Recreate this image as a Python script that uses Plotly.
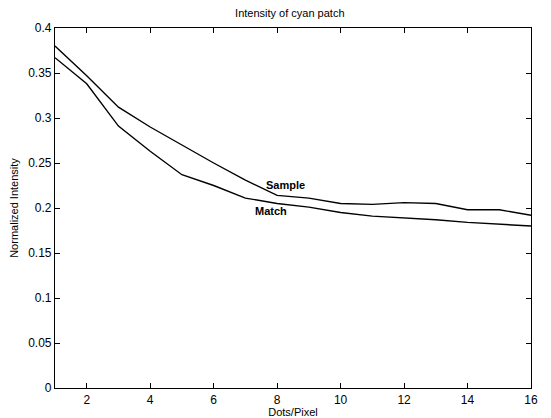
import plotly.graph_objects as go


dots_per_pixel = [1, 2, 3, 4, 5, 6, 7, 8, 9, 10, 11, 12, 13, 14, 15, 16]

sample = [0.380, 0.347, 0.312, 0.290, 0.270, 0.250, 0.231, 0.214,
          0.211, 0.205, 0.204, 0.206, 0.205, 0.198, 0.198, 0.192]

match = [0.367, 0.338, 0.291, 0.263, 0.237, 0.225, 0.211, 0.205,
         0.201, 0.195, 0.191, 0.189, 0.187, 0.184, 0.182, 0.180]

x_ticks = [2, 4, 6, 8, 10, 12, 14, 16]
y_ticks = [0, 0.05, 0.1, 0.15, 0.2, 0.25, 0.3, 0.35, 0.4]
y_tick_text = ["0", "0.05", "0.1", "0.15", "0.2", "0.25", "0.3", "0.35", "0.4"]


fig = go.Figure()

fig.add_trace(
    go.Scatter(
        x=dots_per_pixel,
        y=sample,
        mode="lines",
        line=dict(color="black", width=1.4),
        name="Sample"
    )
)

fig.add_trace(
    go.Scatter(
        x=dots_per_pixel,
        y=match,
        mode="lines",
        line=dict(color="black", width=1.4),
        name="Match"
    )
)

fig.add_annotation(
    x=8.27, y=0.226, text="<b>Sample</b>", showarrow=False,
    font=dict(size=11, color="black")
)

fig.add_annotation(
    x=7.82, y=0.197, text="<b>Match</b>", showarrow=False,
    font=dict(size=11, color="black")
)

axis_style = dict(
    showline=True,
    linecolor="black",
    linewidth=1.2,
    mirror="ticks",
    ticks="inside",
    ticklen=5,
    tickcolor="black",
    showgrid=False,
    zeroline=False,
    automargin=False,
    tickfont=dict(size=12, color="black"),
)

# page body adds an 8px offset, so the figure is a bit smaller than the window
fig.update_layout(
    width=543,
    height=410,
    margin=dict(l=47, r=20, t=20, b=30),
    paper_bgcolor="white",
    plot_bgcolor="white",
    showlegend=False,
    font=dict(family="Liberation Sans", size=11, color="black"),
    title=dict(
        text="Intensity of cyan patch",
        x=0.519, xanchor="center",
        y=0.988, yanchor="middle",
        automargin=False,
        font=dict(size=11)
    ),
    xaxis=dict(
        range=[1, 16],
        tickvals=x_ticks,
        title=dict(text="Dots/Pixel", standoff=2, font=dict(size=11)),
        **axis_style
    ),
    yaxis=dict(
        range=[0, 0.4],
        tickvals=y_ticks,
        ticktext=y_tick_text,
        title=dict(text="Normalized Intensity", standoff=8, font=dict(size=11)),
        **axis_style
    ),
)

fig.write_html("out.html")
